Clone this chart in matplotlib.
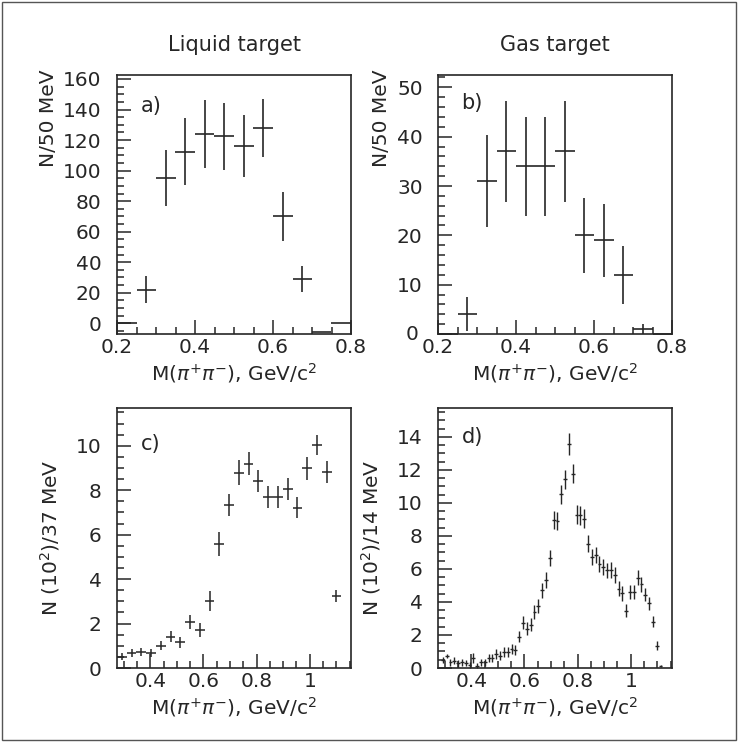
import numpy as np
import matplotlib
matplotlib.use("Agg")
from matplotlib import pyplot as plt
from matplotlib import transforms
from matplotlib.ticker import MultipleLocator

plt.rcParams['font.family'] = ['DejaVu Sans']
plt.rcParams['mathtext.fontset'] = 'dejavusans'

INK = '#262626'

# a) liquid target, 50 MeV bins
a_x = [0.225, 0.275, 0.325, 0.375, 0.425, 0.475, 0.525, 0.575, 0.625, 0.675, 0.725, 0.775]
a_y = [0, 22, 95, 112.5, 124, 122.5, 116, 128, 70, 29, -5.5, 0]
a_err = [0, 8.7, 18.3, 22, 22, 22, 20.2, 18.8, 16.2, 8.7, 0, 0]

# b) gas target, 50 MeV bins
b_x = [0.225, 0.275, 0.325, 0.375, 0.425, 0.475, 0.525, 0.575, 0.625, 0.675, 0.725, 0.775]
b_y = [0, 4, 31, 37, 34, 34, 37, 20, 19, 12, 1, 0]
b_err = [0, 3.4, 9.4, 10.3, 10, 10, 10.3, 7.6, 7.4, 5.9, 1, 0]

# c) liquid target, 37 MeV bins (units of 10^2)
c_start, c_width = 0.2745, 0.0367
c_y = [0.51, 0.68, 0.71, 0.68, 1.01, 1.41, 1.16, 2.06, 1.71, 3.0, 5.59, 7.32,
       8.78, 9.2, 8.41, 7.7, 7.7, 8.07, 7.22, 8.98, 10.03, 8.83, 3.23]
c_err = [0.17, 0.18, 0.18, 0.18, 0.22, 0.26, 0.25, 0.32, 0.3, 0.45, 0.53, 0.5,
         0.56, 0.53, 0.5, 0.48, 0.48, 0.5, 0.48, 0.5, 0.45, 0.5, 0.26]

# d) gas target, 14 MeV bins (units of 10^2)
d_start, d_width = 0.2858, 0.01437
d_y = [0.49, 0.71, 0.34, 0.45, 0.28, 0.34, 0.3, 0.18, 0.61, 0.14, 0.34, 0.34,
       0.61, 0.59, 0.85, 0.75, 0.95, 0.95, 1.15, 1.09, 1.9, 2.75, 2.39, 2.63,
       3.38, 3.74, 4.7, 5.34, 6.66, 8.99, 8.89, 10.53, 11.42, 13.56, 11.78, 9.29,
       9.25, 9.05, 7.53, 6.72, 6.86, 6.28, 6.11, 5.91, 5.95, 5.61, 4.8, 4.53,
       3.48, 4.6, 4.6, 5.47, 5.06, 4.45, 3.93, 2.81, 1.36, 0.14]
d_err = [0.2, 0.12, 0.2, 0.2, 0.2, 0.2, 0.2, 0.2, 0.3, 0.15, 0.22, 0.22,
         0.25, 0.25, 0.28, 0.28, 0.3, 0.3, 0.3, 0.3, 0.35, 0.38, 0.38, 0.38,
         0.42, 0.42, 0.45, 0.5, 0.5, 0.55, 0.55, 0.58, 0.6, 0.65, 0.6, 0.58,
         0.58, 0.58, 0.52, 0.5, 0.5, 0.48, 0.48, 0.48, 0.48, 0.48, 0.45, 0.45,
         0.4, 0.45, 0.45, 0.45, 0.45, 0.42, 0.4, 0.35, 0.25, 0.05]

c_x = c_start + c_width * (np.arange(len(c_y)) + 0.5)
d_x = d_start + d_width * (np.arange(len(d_y)) + 0.5)

x_title = r'M($\pi^{+}\pi^{-}$), GeV/c$^{2}$'
FS = 14.5

fig = plt.figure(figsize=(7.38, 7.42), dpi=100)
fig.patches.append(plt.Rectangle((0.003, 0.003), 0.994, 0.994, transform=fig.transFigure,
                                 fill=False, edgecolor='#555555', linewidth=1.0))

W, H = 738, 742
def box(l, t, r, b):
    return [l / W, 1 - b / H, (r - l) / W, (b - t) / H]

ax_a = fig.add_axes(box(117, 75, 351, 334))
ax_b = fig.add_axes(box(438, 75, 672, 334))
ax_c = fig.add_axes(box(117, 408, 351, 668))
ax_d = fig.add_axes(box(438, 408, 672, 668))


def style(ax, xlim, ylim, xmaj, xmin, ymaj, ymin):
    ax.set_xlim(*xlim)
    ax.set_ylim(*ylim)
    ax.xaxis.set_major_locator(MultipleLocator(xmaj))
    ax.xaxis.set_minor_locator(MultipleLocator(xmin))
    ax.yaxis.set_major_locator(MultipleLocator(ymaj))
    ax.yaxis.set_minor_locator(MultipleLocator(ymin))
    ax.tick_params(which='both', direction='in', top=False, right=False,
                   colors=INK, labelsize=FS, width=1.1)
    ax.tick_params(which='major', length=10)
    ax.tick_params(which='minor', length=5)
    ax.tick_params(axis='x', which='major', pad=3)
    ax.tick_params(axis='y', which='major', pad=11)
    for s in ax.spines.values():
        s.set_linewidth(1.2)
        s.set_color(INK)
    ax.set_xlabel(x_title, fontsize=FS, color=INK, labelpad=3)


def draw(ax, x, y, err, hw, lw):
    ax.errorbar(x, y, xerr=hw, yerr=err, fmt='none', ecolor=INK,
                elinewidth=lw, capsize=0, clip_on=False)


draw(ax_a, a_x, a_y, a_err, 0.025, 1.2)
draw(ax_b, b_x, b_y, b_err, 0.025, 1.2)
draw(ax_c, c_x, c_y, c_err, c_width / 2, 1.1)
draw(ax_d, d_x, d_y, d_err, d_width / 2, 1.0)

style(ax_a, (0.2, 0.8), (-7, 162.6), 0.2, 0.05, 20, 5)
style(ax_b, (0.2, 0.8), (0, 52.5), 0.2, 0.05, 10, 2)
style(ax_c, (0.275, 1.155), (0, 11.7), 0.2, 0.05, 2, 0.5)
style(ax_d, (0.275, 1.155), (0, 15.75), 0.2, 0.05, 2, 0.5)

for ax in (ax_c, ax_d):
    ax.xaxis.set_major_formatter(lambda v, p: '1' if abs(v - 1) < 1e-6 else f'{v:.1f}')

ax_a.set_ylabel('N/50 MeV', fontsize=FS, color=INK, y=1.02, ha='right', labelpad=4)
ax_b.set_ylabel('N/50 MeV', fontsize=FS, color=INK, y=1.02, ha='right', labelpad=4)
ax_c.set_ylabel(r'N (10$^{2}$)/37 MeV', fontsize=FS, color=INK, labelpad=10)
ax_d.set_ylabel(r'N (10$^{2}$)/14 MeV', fontsize=FS, color=INK, labelpad=10)

letter_y = (0.88, 0.89, 0.86, 0.89)
for ax, letter, ly in zip((ax_a, ax_b, ax_c, ax_d), ('a)', 'b)', 'c)', 'd)'), letter_y):
    ax.text(0.1, ly, letter, transform=ax.transAxes, fontsize=FS + 0.5,
            color=INK, va='center')

fig.text(234 / W, 1 - 45 / H, 'Liquid target', ha='center', va='center', fontsize=15, color=INK)
fig.text(555 / W, 1 - 45 / H, 'Gas target', ha='center', va='center', fontsize=15, color=INK)

# in panel b the "0" of the y axis sits a little lower and to the left
fig.canvas.draw()
shift = transforms.ScaledTranslation(-4 / 100, 2 / 100, fig.dpi_scale_trans)
for lbl in ax_b.get_yticklabels():
    if lbl.get_text() == '0':
        lbl.set_transform(lbl.get_transform() + shift)

plt.savefig('out.png', dpi=100)
